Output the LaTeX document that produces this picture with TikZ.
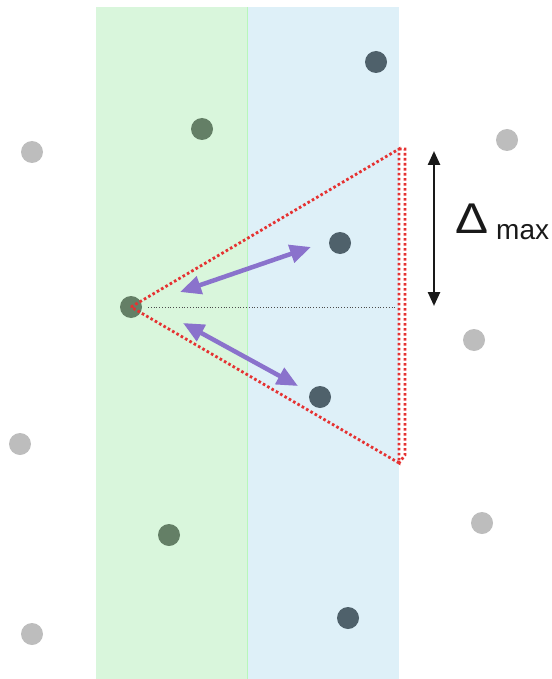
\documentclass[tikz,border=0pt]{standalone}
\usepackage{fontspec}
\setmainfont{Liberation Sans}
\usetikzlibrary{arrows.meta}
\definecolor{stripgreen}{HTML}{D9F6DC}
\definecolor{stripblue}{HTML}{DEF0F8}
\definecolor{ptgray}{HTML}{BDBDBD}
\definecolor{ptgreen}{HTML}{647F66}
\definecolor{ptblue}{HTML}{4F616B}
\definecolor{redline}{HTML}{E53232}
\definecolor{purp}{HTML}{8A72CC}
\tikzset{
  pt/.style={circle,inner sep=0pt,minimum size=22pt,draw=none},
  gp/.style={pt,fill=ptgray},
  gn/.style={pt,fill=ptgreen},
  bl/.style={pt,fill=ptblue},
  reddot/.style={draw=redline,line width=2.8pt,dash pattern=on 2.6pt off 2.4pt},
  parr/.style={draw=purp,line width=4.5pt,{Triangle[length=21pt,width=18pt]}-{Triangle[length=21pt,width=18pt]}},
  karr/.style={draw=black!90,line width=2.5pt,{Triangle[length=14pt,width=12pt]}-{Triangle[length=14pt,width=12pt]}}
}
\begin{document}
\begin{tikzpicture}[x=1pt,y=-1pt]
\useasboundingbox (0,0) rectangle (551,679);
\fill[stripgreen] (96,7) rectangle (247,679);
\fill[stripblue] (247,7) rectangle (399,679);
\draw[green!15!stripgreen,line width=0.6pt] (247,7) -- (247,679);
% points
\node[gp] (g1) at (32,152) {};
\node[gp] (g2) at (507,140) {};
\node[gp] (g3) at (474,340) {};
\node[gp] (g4) at (20,444) {};
\node[gp] (g5) at (482,523) {};
\node[gp] (g6) at (32,634) {};
\node[gn] (n1) at (202,129) {};
\node[gn] (n2) at (131,307) {};
\node[gn] (n3) at (169,535) {};
\node[bl] (b1) at (376,62) {};
\node[bl] (b2) at (340,243) {};
\node[bl] (b3) at (320,397) {};
\node[bl] (b4) at (348,618) {};
% triangle
\coordinate (apex) at (131,307);
\coordinate (tt) at (399,149);
\coordinate (tb) at (399,463);
\coordinate (ot) at (405,149);
\coordinate (ob) at (405,455);
\coordinate (hs) at (148,307);
\coordinate (he) at (396,307);
\draw[black!70,line width=0.8pt,dotted] (hs) -- (he);
\draw[reddot] (apex) -- (tt) -- (tb) -- cycle;
\draw[reddot] (tt) -- (ot) -- (ob) -- (tb);
% purple arrows
\coordinate (a1s) at (180,292);
\coordinate (a1e) at (311,247);
\coordinate (a2s) at (183,323);
\coordinate (a2e) at (298,386);
\draw[parr] (a1s) -- (a1e);
\draw[parr] (a2s) -- (a2e);
% delta
\coordinate (dt) at (434,151);
\coordinate (db) at (434,306);
\draw[karr] (dt) -- (db);
\node[anchor=base west,inner sep=0pt,font=\fontsize{43}{43}\selectfont,text=black!90,xscale=1.15] (delta) at (455,233) {Δ};
\node[anchor=base west,inner sep=0pt,font=\fontsize{28}{28}\selectfont,text=black!90] (mx) at (496,239) {max};
\end{tikzpicture}
\end{document}
